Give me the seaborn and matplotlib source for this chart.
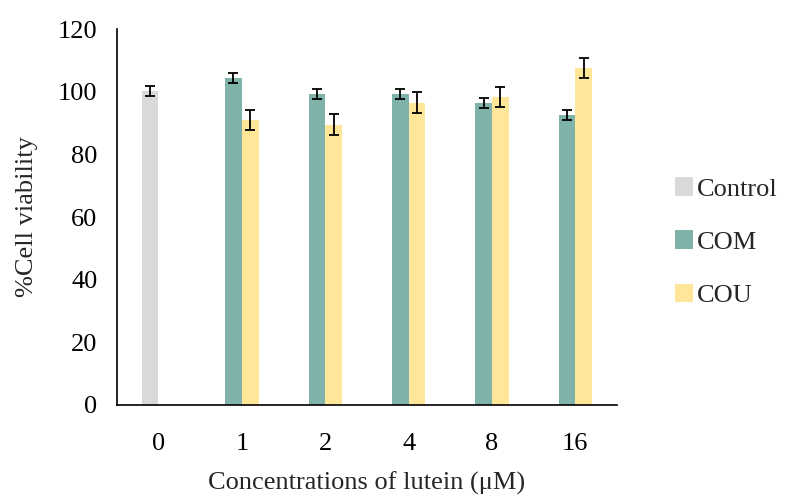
import numpy as np
import pandas as pd
import matplotlib
matplotlib.use("Agg")
import matplotlib.pyplot as plt
from matplotlib.patches import Patch
import seaborn as sns

concs = ["0", "1", "2", "4", "8", "16"]
control_val = [100.2]
control_err = [1.7]
com_val = [104.3, 99.3, 99.3, 96.4, 92.6]
com_err = [1.6, 1.7, 1.7, 1.6, 1.6]
cou_val = [91.0, 89.5, 96.5, 98.3, 107.6]
cou_err = [3.3, 3.3, 3.3, 3.2, 3.1]

colors = {"Control": "#D9D9D9", "COM": "#7FB2A9", "COU": "#FFE699"}

rows = []
rows.append(dict(conc=concs[0], slot="L", group="Control", value=control_val[0], err=control_err[0]))
for c, v, e in zip(concs[1:], com_val, com_err):
    rows.append(dict(conc=c, slot="L", group="COM", value=v, err=e))
for c, v, e in zip(concs[1:], cou_val, cou_err):
    rows.append(dict(conc=c, slot="R", group="COU", value=v, err=e))
df = pd.DataFrame(rows)

sns.set_style("white")
plt.rcParams["font.family"] = ["Liberation Serif", "DejaVu Serif"]

fig = plt.figure(figsize=(7.89, 5.03), dpi=100)
ax = fig.add_axes([0.148, 0.195, 0.634, 0.747])

sns.barplot(data=df, x="conc", y="value", hue="slot", hue_order=["L", "R"],
            order=concs, width=0.4, errorbar=None, ax=ax, legend=False,
            palette={"L": colors["COM"], "R": colors["COU"]}, saturation=1)

# color bars by group and add error bars
for cont, slot in zip(ax.containers, ["L", "R"]):
    sub = df[df.slot == slot].set_index("conc").reindex(concs).dropna()
    for bar, (_, r) in zip(cont, sub.iterrows()):
        bar.set_facecolor(colors[r.group])
        bar.set_edgecolor("none")
        ax.errorbar(bar.get_x() + bar.get_width() / 2, r.value, yerr=r.err,
                    fmt="none", ecolor="black", elinewidth=1.3, capsize=3.8, capthick=1.3)

ax.set_ylim(0, 120)
ax.set_yticks(range(0, 121, 20))
ax.set_xlim(-0.5, 5.5)
sns.despine(ax=ax)
ax.spines["left"].set_color("black")
ax.spines["bottom"].set_color("black")
ax.spines["left"].set_linewidth(1.2)
ax.spines["bottom"].set_linewidth(1.2)
ax.tick_params(axis="both", length=0, labelsize=19, colors="black")
ax.tick_params(axis="x", pad=20)
ax.tick_params(axis="y", pad=14)
ax.set_xlabel("Concentrations of lutein (μM)", fontsize=19, labelpad=12)
ax.set_ylabel("%Cell viability", fontsize=19, labelpad=14)

handles = [Patch(facecolor=colors[g], edgecolor="none", label=g) for g in ["Control", "COM", "COU"]]
fig.legend(handles=handles, loc="upper left", bbox_to_anchor=(0.855, 0.648), frameon=False,
           fontsize=19, handlelength=0.7, handleheight=0.7, handletextpad=0.15,
           labelspacing=1.13, borderaxespad=0, borderpad=0)

fig.savefig("out.png", dpi=100)
